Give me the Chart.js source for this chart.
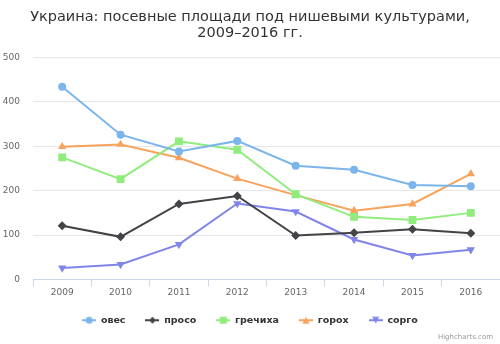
<!DOCTYPE html>
<html><head><meta charset="utf-8">
<script src="https://cdn.jsdelivr.net/npm/chart.js@4/dist/chart.umd.min.js"></script>
<style>html,body{margin:0;padding:0;background:#fff}#wrap{width:500px;height:344px;position:relative}</style>
</head><body><div id="wrap"><canvas id="c" width="500" height="344"></canvas></div>
<script>
const categories = ['2009','2010','2011','2012','2013','2014','2015','2016'];
const oves    = [434, 326, 288, 312, 256, 247, 213, 210];
const proso   = [121, 96, 170, 188, 99, 105, 113, 104];
const grechka = [275, 226, 311, 292, 192, 141, 134, 150];
const goroh   = [299, 304, 274, 227, 190, 155, 170, 238];
const sorgo   = [26, 34, 79, 171, 153, 90, 54, 67];
const seriesNames = ['овес','просо','гречиха','горох','сорго'];
const yTicks = [0,100,200,300,400,500];

const FONT = '"DejaVu Sans", sans-serif';
const colors = ['#7cb5ec','#434348','#90ed7d','#f7a35c','#8085e9'];
const styles = ['circle','rectRot','rect','triangle','triangle'];
const rotations = [0,0,0,0,180];
const radii = [4,4.5,5.6,4.8,4.8];

function legendIcon(i){
  const cv = document.createElement('canvas');
  cv.width = 14; cv.height = 10;
  const g = cv.getContext('2d');
  g.strokeStyle = colors[i]; g.lineWidth = 2;
  g.beginPath(); g.moveTo(0,5); g.lineTo(14,5); g.stroke();
  g.fillStyle = colors[i];
  const cx=7, cy=5, r=3.5;
  g.beginPath();
  if (i===0){ g.arc(cx,cy,r,0,Math.PI*2); }
  else if (i===1){ g.moveTo(cx,cy-r);g.lineTo(cx+r,cy);g.lineTo(cx,cy+r);g.lineTo(cx-r,cy);g.closePath(); }
  else if (i===2){ g.rect(cx-r,cy-r,2*r,2*r); }
  else if (i===3){ g.moveTo(cx,cy-r);g.lineTo(cx+r,cy+r);g.lineTo(cx-r,cy+r);g.closePath(); }
  else { g.moveTo(cx-r,cy-r);g.lineTo(cx+r,cy-r);g.lineTo(cx,cy+r);g.closePath(); }
  g.fill();
  return cv;
}
const icons = [0,1,2,3,4].map(legendIcon);

const data = [oves, proso, grechka, goroh, sorgo];
const datasets = data.map((d,i)=>({
  label: seriesNames[i], data: d,
  borderColor: colors[i], backgroundColor: colors[i],
  borderWidth: 2, pointStyle: styles[i], pointRotation: rotations[i],
  pointRadius: radii[i], pointBorderWidth: 0,
  pointBackgroundColor: colors[i], tension: 0
}));

const credits = {
  id:'credits',
  afterDraw(chart){
    const ctx = chart.ctx;
    ctx.save();
    ctx.font = '7px ' + FONT;
    ctx.fillStyle = '#999';
    ctx.textAlign = 'right'; ctx.textBaseline = 'middle';
    ctx.fillText('Highcharts.com', 493, 337);
    ctx.restore();
  }
};

new Chart(document.getElementById('c'), {
  type:'line',
  data:{ labels: categories, datasets },
  plugins:[credits],
  options:{
    responsive:false, animation:false,
    events:[],
    layout:{ autoPadding:false, padding:{ left:0, right:0, top:0, bottom:9 } },
    plugins:{
      title:{ display:true, text:['Украина: посевные площади под нишевыми культурами,','2009–2016 гг.'],
        color:'#333333', font:{ family:FONT, size:14.5, weight:'normal', lineHeight:1.1 },
        padding:{ top:9, bottom:16.5 } },
      legend:{ position:'bottom',
        labels:{ usePointStyle:true, pointStyleWidth:14, padding:20, color:'#333333',
          font:{ family:FONT, size:9.5, weight:'bold' },
          generateLabels(chart){
            return chart.data.datasets.map((ds,i)=>({
              text: ds.label, pointStyle: icons[i], fillStyle: colors[i], strokeStyle: colors[i],
              lineWidth:0, hidden:false, datasetIndex:i, fontColor:'#333333'
            }));
          } } },
      tooltip:{ enabled:false }
    },
    scales:{
      x:{ offset:true,
        afterFit(s){ s.height = 16; s.paddingLeft = 0; s.paddingRight = 0; },
        grid:{ offset:true, drawOnChartArea:false, drawTicks:true, tickLength:7, color:'#ccd6eb' },
        border:{ display:true, color:'#ccd6eb' },
        ticks:{ color:'#666666', font:{ family:FONT, size:9 }, padding:1, maxRotation:0 } },
      y:{ min:0, max:500,
        afterFit(s){ s.width = 33; },
        afterBuildTicks(s){ s.ticks = yTicks.map(v=>({value:v})); },
        grid:{ color:'#e6e6e6', drawTicks:false },
        border:{ display:false },
        ticks:{ color:'#666666', font:{ family:FONT, size:9 }, padding:13 } }
    }
  }
});
</script></body></html>
